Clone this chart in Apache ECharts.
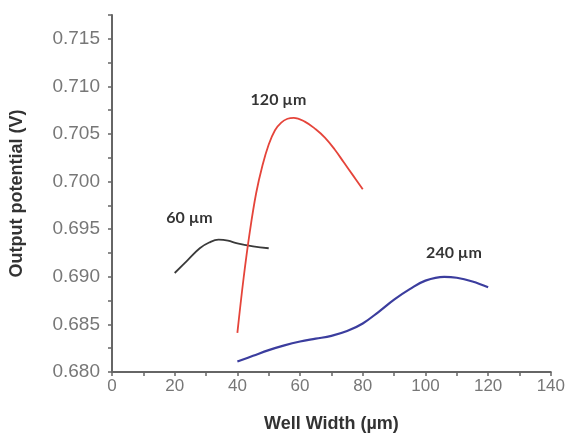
<!DOCTYPE html>
<html>
<head>
<meta charset="utf-8">
<script src="https://cdn.jsdelivr.net/npm/echarts@6/dist/echarts.min.js"></script>
<style>
html,body{margin:0;padding:0;background:#fff;}
#c{width:568px;height:438px;}
</style>
</head>
<body>
<div id="c"></div>
<script>
// Well width (µm) and output potential (V) for each device size
const w60 = [20, 24, 28, 31, 34, 37, 40, 45, 50];
const v60 = [0.6904, 0.6917, 0.6930, 0.6936, 0.6939, 0.6938, 0.6935, 0.6932, 0.6930];

const w120 = [40, 42, 44, 46, 48, 50, 52, 54, 56, 58, 61.5, 65, 68, 71, 74, 77, 80];
const v120 = [0.6841, 0.6899, 0.6948, 0.6988, 0.7017, 0.7039, 0.7054, 0.7062, 0.7066, 0.7067, 0.7063, 0.7055, 0.7046, 0.7034, 0.7020, 0.7006, 0.6992];

const w240 = [40, 45, 50, 55, 60, 65, 70, 75, 80, 85, 90, 95, 100, 106, 110, 115, 120];
const v240 = [0.6811, 0.6817, 0.6823, 0.6828, 0.6832, 0.6835, 0.6838, 0.6843, 0.6851, 0.6863, 0.6876, 0.6887, 0.6896, 0.6900, 0.6899, 0.6895, 0.6889];

const labelText = ['60 µm', '120 µm', '240 µm'];
const labelX = [24.7, 53.1, 109.1];
const labelY = [0.6962, 0.70858, 0.69256];

const xTicks = [0, 20, 40, 60, 80, 100, 120, 140];

const pairs = (xs, ys) => xs.map((x, i) => [x, ys[i]]);

const chart = echarts.init(document.getElementById('c'), null, {renderer: 'canvas'});
const axisColor = '#666';
chart.setOption({
  animation: false,
  backgroundColor: '#fff',
  grid: {left: 112, right: 16, top: 15, bottom: 62},
  xAxis: {
    type: 'value', min: 0, max: 140, interval: 10,
    name: 'Well Width (µm)', nameLocation: 'middle', nameGap: 43,
    nameTextStyle: {fontFamily: 'Liberation Sans', fontWeight: 'bold', fontSize: 18, color: '#333'},
    axisLine: {show: true, lineStyle: {color: axisColor, width: 2}},
    axisTick: {show: true, length: 4, lineStyle: {color: axisColor, width: 1.5}},
    axisLabel: {
      margin: 6, color: '#777', fontFamily: 'Liberation Sans', fontSize: 17,
      formatter: v => (xTicks.indexOf(Math.round(v)) >= 0 ? String(Math.round(v)) : '')
    },
    splitLine: {show: false}
  },
  yAxis: {
    type: 'value', min: 0.680, max: 0.7175, interval: 0.0025,
    name: 'Output potential (V)', nameLocation: 'middle', nameGap: 86,
    nameTextStyle: {fontFamily: 'Liberation Sans', fontWeight: 'bold', fontSize: 18, color: '#333'},
    axisLine: {show: true, lineStyle: {color: axisColor, width: 2}},
    axisTick: {show: true, length: 4, lineStyle: {color: axisColor, width: 1.5}},
    axisLabel: {
      margin: 12, color: '#777', fontFamily: 'Liberation Sans', fontSize: 19,
      formatter: v => {
        const k = Math.round(v * 10000);
        return (k % 50 === 0 && k <= 7150) ? v.toFixed(3) : '';
      }
    },
    splitLine: {show: false}
  },
  series: [
    {type: 'line', data: pairs(w60, v60), smooth: 0.4, symbol: 'none',
     lineStyle: {color: '#3a3a3a', width: 1.8}},
    {type: 'line', data: pairs(w120, v120), smooth: 0.4, symbol: 'none',
     lineStyle: {color: '#e5443a', width: 1.8}},
    {type: 'line', data: pairs(w240, v240), smooth: 0.4, symbol: 'none',
     lineStyle: {color: '#3b3d9e', width: 2.2}},
    {type: 'scatter', symbolSize: 0, silent: true,
     data: labelText.map((t, i) => ({value: [labelX[i], labelY[i]], name: t})),
     label: {show: true, position: 'inside', formatter: p => p.name,
             fontFamily: 'Lato', fontWeight: 'bold', fontSize: 16, color: '#000'}}
  ]
});
</script>
</body>
</html>
